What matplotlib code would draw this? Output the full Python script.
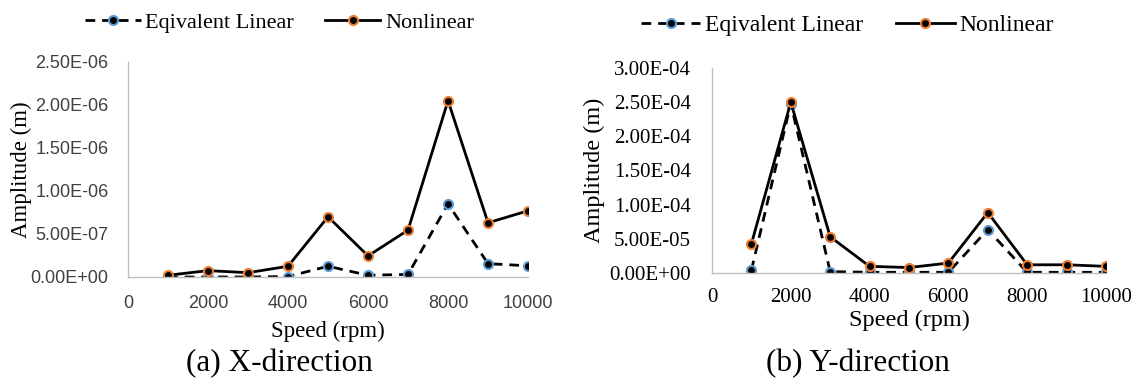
import numpy as np
import matplotlib.pyplot as plt
from matplotlib.ticker import FuncFormatter

# speeds (rpm)
speed = [1000, 2000, 3000, 4000, 5000, 6000, 7000, 8000, 9000, 10000]

# X-direction amplitudes (m)
x_linear = [0.0, 0.0, 0.0, 5e-9, 1.25e-7, 2e-8, 3e-8, 8.5e-7, 1.55e-7, 1.3e-7]
x_nonlinear = [2e-8, 7.4e-8, 5e-8, 1.25e-7, 7.0e-7, 2.45e-7, 5.45e-7, 2.05e-6, 6.3e-7, 7.7e-7]

# Y-direction amplitudes (m)
y_linear = [4e-6, 2.48e-4, 2e-6, 1e-6, 1e-6, 1e-6, 6.35e-5, 1e-6, 1e-6, 1e-6]
y_nonlinear = [4.25e-5, 2.5e-4, 5.3e-5, 9.7e-6, 8e-6, 1.45e-5, 8.85e-5, 1.2e-5, 1.2e-5, 9.7e-6]

xticks = [0, 2000, 4000, 6000, 8000, 10000]
serif = 'Liberation Serif'
sans = 'Liberation Sans'


def sci_fmt(v, pos):
    return f'{v:.2E}'


def draw_panel(ax, lin, nonlin, ymax, ystep, tick_family, tick_size, tick_color,
               xpad, ypad, label_size, xlabelpad, ylabelpad, legend_pos, legend_size):
    ax.plot(speed, lin, color='black', linestyle=(0, (3.5, 2.5)), linewidth=2,
            marker='o', markersize=6.5, markerfacecolor='black',
            markeredgecolor='#5b9bd5', markeredgewidth=1.5, label='Eqivalent Linear')
    ax.plot(speed, nonlin, color='black', linestyle='-', linewidth=2,
            marker='o', markersize=6.5, markerfacecolor='black',
            markeredgecolor='#ed7d31', markeredgewidth=1.5, label='Nonlinear')

    ax.set_xlim(0, 10000)
    ax.set_ylim(0, ymax)
    ax.set_xticks(xticks)
    ax.set_yticks(np.arange(0, ymax + ystep / 2, ystep))
    ax.yaxis.set_major_formatter(FuncFormatter(sci_fmt))
    ax.tick_params(axis='x', length=0, pad=xpad)
    ax.tick_params(axis='y', length=0, pad=ypad)
    for lbl in ax.get_xticklabels() + ax.get_yticklabels():
        lbl.set_family(tick_family)
        lbl.set_fontsize(tick_size)
        lbl.set_color(tick_color)

    for s in ['top', 'right']:
        ax.spines[s].set_visible(False)
    for s in ['left', 'bottom']:
        ax.spines[s].set_color('#bfbfbf')
        ax.spines[s].set_linewidth(1.0)

    ax.set_xlabel('Speed (rpm)', family=serif, fontsize=label_size, labelpad=xlabelpad)
    ax.set_ylabel('Amplitude (m)', family=serif, fontsize=label_size, labelpad=ylabelpad)

    fig.legend(handles=ax.get_lines(), loc='center left', bbox_to_anchor=legend_pos,
               ncol=2, frameon=False, prop={'family': serif, 'size': legend_size},
               handlelength=2.5, handletextpad=0.2, columnspacing=1.4,
               borderpad=0, borderaxespad=0)


fig = plt.figure(figsize=(11.37, 3.81), dpi=100)
ax1 = fig.add_axes([0.1126, 0.273, 0.3518, 0.5643])
ax2 = fig.add_axes([0.6262, 0.2835, 0.3465, 0.538])

draw_panel(ax1, x_linear, x_nonlinear, 2.5e-6, 5e-7, sans, 13, '#404040',
           13, 14, 16.5, 6, -1, (0.0748, 0.94), 16)
draw_panel(ax2, y_linear, y_nonlinear, 3e-4, 5e-5, serif, 15, 'black',
           11, 15, 17.5, 2, 3, (0.5638, 0.934), 17)

fig.text(0.246, 0.045, '(a) X-direction', family=serif, fontsize=22.5, ha='center', va='center')
fig.text(0.755, 0.045, '(b) Y-direction', family=serif, fontsize=22.5, ha='center', va='center')

plt.savefig('out.png', dpi=100)
